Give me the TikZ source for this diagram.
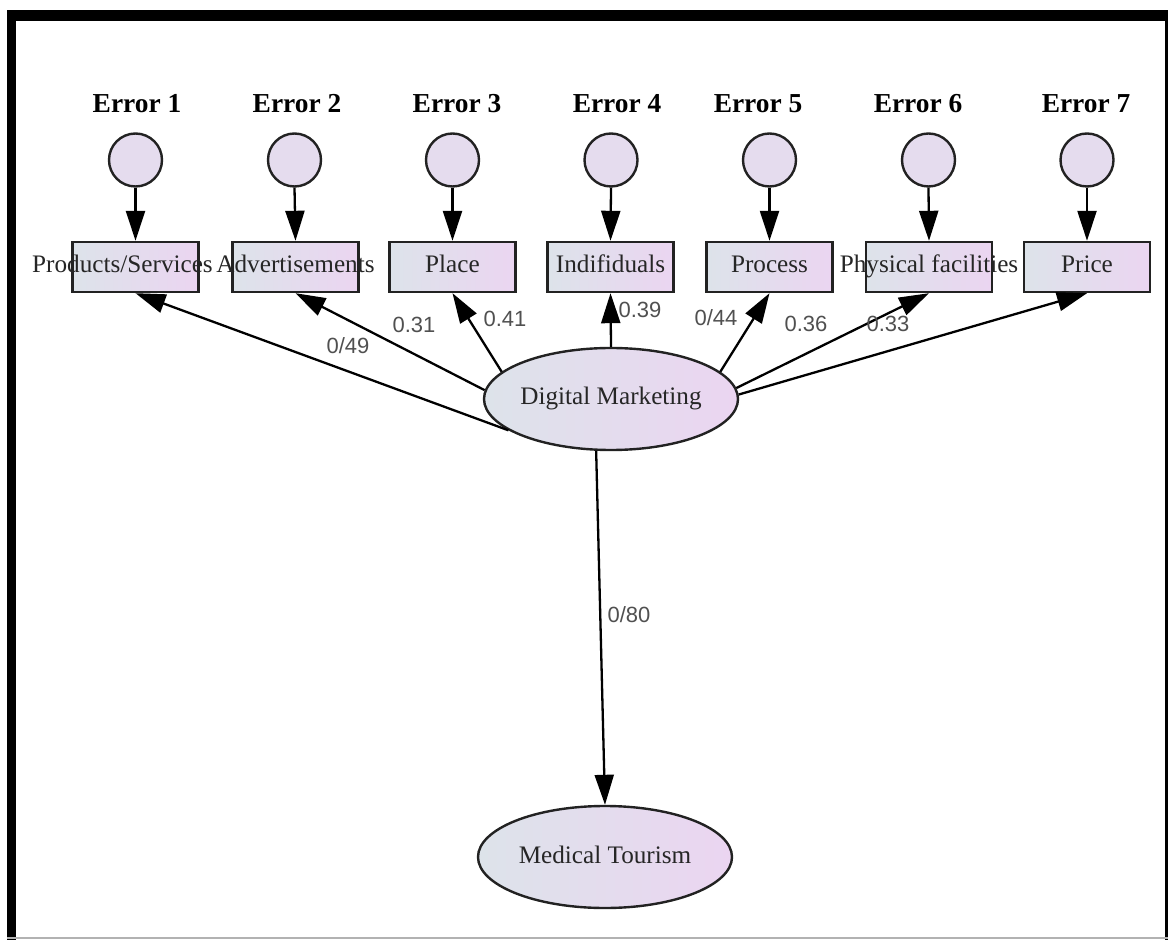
\documentclass[tikz,border=0pt]{standalone}
\usepackage{fontspec}
\setmainfont{Liberation Serif}
\newfontfamily\coeffont{Liberation Sans}
\usetikzlibrary{arrows.meta,shapes.geometric}
\definecolor{bluegray}{HTML}{DDE3EA}
\definecolor{pinkish}{HTML}{EBD5F1}
\definecolor{circfill}{HTML}{E5DCEE}
\definecolor{bordergray}{HTML}{222222}
\definecolor{lblgray}{HTML}{505050}
\begin{document}
\begin{tikzpicture}[x=0.5pt,y=-0.5pt,
  errlabel/.style={font=\fontsize{13.7}{16}\selectfont\bfseries, inner sep=0, anchor=base},
  errcirc/.style={circle, draw=bordergray, line width=1.2pt, fill=circfill, minimum size=26.5pt, inner sep=0},
  obsbox/.style={rectangle, draw=bordergray, line width=1.2pt, left color=bluegray, right color=pinkish,
    minimum width=63pt, minimum height=25pt, inner sep=0, font=\fontsize{12.6}{15}\selectfont,
    text=black!85, text height=8pt, text depth=2pt},
  latent/.style={ellipse, draw=bordergray, line width=1.2pt, left color=bluegray, right color=pinkish,
    minimum width=127pt, minimum height=51pt, inner sep=0, font=\fontsize{12.6}{15}\selectfont,
    text=black!85, text height=8pt, text depth=2pt},
  conn/.style={draw=black, line width=1.15pt, -{Triangle[length=15pt,width=9.5pt]}},
  coef/.style={font=\coeffont\fontsize{11}{13}\selectfont, text=lblgray, inner sep=0}
]
\useasboundingbox (0,0) rectangle (1171,940);

% frame
\fill[black] (7,10) rectangle (1168,21);
\fill[black] (7,10) rectangle (16,940);
\fill[black] (1165,10) rectangle (1168,940);
\draw[gray!60, line width=1pt] (7,937.5) -- (1168,937.5);

% error labels
\node[errlabel] (l1) at (137,113) {Error 1};
\node[errlabel] (l2) at (297,113) {Error 2};
\node[errlabel] (l3) at (457,113) {Error 3};
\node[errlabel] (l4) at (617,113) {Error 4};
\node[errlabel] (l5) at (758,113) {Error 5};
\node[errlabel] (l6) at (918,113) {Error 6};
\node[errlabel] (l7) at (1086,113) {Error 7};

% error circles
\node[errcirc] (c1) at (135.5,160) {};
\node[errcirc] (c2) at (294.5,160) {};
\node[errcirc] (c3) at (452.5,160) {};
\node[errcirc] (c4) at (611,160) {};
\node[errcirc] (c5) at (769.5,160) {};
\node[errcirc] (c6) at (928.5,160) {};
\node[errcirc] (c7) at (1087,160) {};

% observed variables
\node[obsbox] (b1) at (135.5,267) {\makebox[0pt]{\kern-13pt Products/Services}};
\node[obsbox] (b2) at (295.5,267) {\makebox[0pt]{Advertisements}};
\node[obsbox] (b3) at (452.5,267) {\makebox[0pt]{Place}};
\node[obsbox] (b4) at (610.5,267) {\makebox[0pt]{Indifiduals}};
\node[obsbox] (b5) at (769.5,267) {\makebox[0pt]{Process}};
\node[obsbox] (b6) at (929,267) {\makebox[0pt]{Physical facilities}};
\node[obsbox] (b7) at (1087,267) {\makebox[0pt]{Price}};

% latent variables
\node[latent] (dm) at (611,399) {\makebox[0pt]{Digital Marketing}};
\node[latent] (mt) at (605,857) {\makebox[0pt]{Medical Tourism}};

% error arrows
\foreach \i in {1,...,7} {
  \draw[conn] (c\i.south) -- (b\i.north);
}

% loadings
\draw[conn] (dm.197) -- (b1.south);
\draw[conn] (dm.176) -- (b2.south);
\draw[conn] (dm.166) -- (b3.south);
\draw[conn] (dm.north) -- (b4.south);
\draw[conn] (dm.14) -- (b5.south);
\draw[conn] (dm.5) -- (b6.south);
\draw[conn] (dm.2.7) -- (b7.south);
\draw[conn] (dm.254.6) -- (mt.north);

% coefficients
\node[coef] (k1) at (348,346) {0/49};
\node[coef] (k2) at (414,325) {0.31};
\node[coef] (k3) at (505,319) {0.41};
\node[coef] (k4) at (640,310) {0.39};
\node[coef] (k5) at (716,318) {0/44};
\node[coef] (k6) at (806,324) {0.36};
\node[coef] (k7) at (888,324) {0.33};
\node[coef] (k8) at (629,615) {0/80};
\end{tikzpicture}
\end{document}
